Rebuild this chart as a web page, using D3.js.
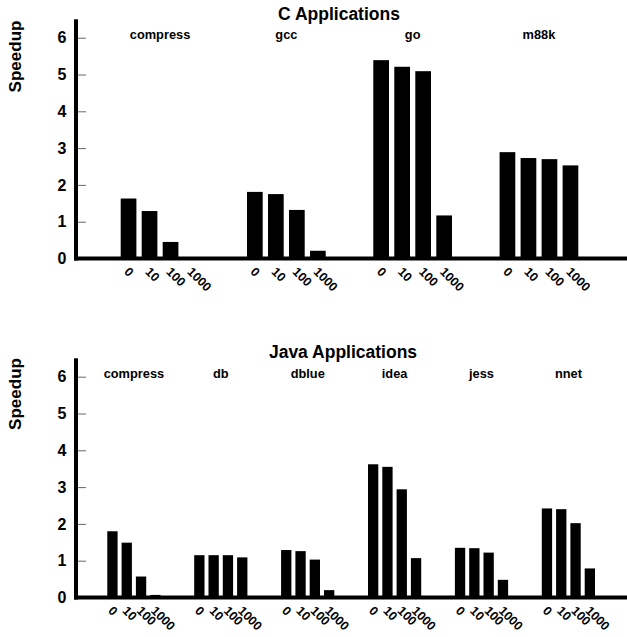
<!DOCTYPE html>
<html>
<head>
<meta charset="utf-8">
<script src="https://cdn.jsdelivr.net/npm/d3@7"></script>
<style>
  html, body { margin: 0; padding: 0; background: #fff; }
  svg { display: block; font-family: "Liberation Sans", Arial, Helvetica, sans-serif; font-weight: bold; }
</style>
</head>
<body>
<svg id="chart" width="627" height="637"></svg>
<script>
// Cache sizes shown under every benchmark
const cacheSizes = ["0", "10", "100", "1000"];
const yTicks = [0, 1, 2, 3, 4, 5, 6];

// C benchmarks
const cBenchmarks = ["compress", "gcc", "go", "m88k"];
const cSpeedup = [
  [1.63, 1.29, 0.45, 0.04],
  [1.81, 1.75, 1.32, 0.21],
  [5.39, 5.21, 5.09, 1.17],
  [2.89, 2.73, 2.70, 2.53]
];

// Java benchmarks
const javaBenchmarks = ["compress", "db", "dblue", "idea", "jess", "nnet"];
const javaSpeedup = [
  [1.80, 1.49, 0.57, 0.07],
  [1.15, 1.15, 1.15, 1.09],
  [1.29, 1.26, 1.03, 0.20],
  [3.62, 3.55, 2.94, 1.07],
  [1.35, 1.34, 1.22, 0.48],
  [2.42, 2.40, 2.02, 0.79]
];

const svg = d3.select("#chart");

function drawPanel(opt) {
  const g = svg.append("g");
  const y = d3.scaleLinear().domain([0, 6.5]).range([opt.zeroY, opt.zeroY - 6.5 * 36.8]);
  const x0 = d3.scaleBand().domain(opt.groups).range(opt.groupRange);
  const x1 = d3.scaleBand().domain(cacheSizes).range([0, x0.bandwidth()])
    .paddingInner(opt.padInner).paddingOuter(opt.padOuter);

  const rows = [];
  opt.groups.forEach((grp, i) => {
    cacheSizes.forEach((s, j) => rows.push({ grp, s, v: opt.values[i][j] }));
  });

  // bars
  g.append("g").selectAll("rect").data(rows).join("rect")
    .attr("x", d => x0(d.grp) + x1(d.s))
    .attr("width", x1.bandwidth())
    .attr("y", d => y(d.v))
    .attr("height", d => y(0) - y(d.v))
    .attr("fill", "#000");

  // y axis: ticks point into the plot, labels on the left
  const axisX = 76;
  const yAxis = d3.axisLeft(y).tickValues(yTicks).tickFormat(d3.format("d"))
    .tickSizeInner(-10).tickSizeOuter(0).tickPadding(9.5);
  const ax = g.append("g").attr("transform", `translate(${axisX},0)`).call(yAxis);
  ax.select(".domain").remove();
  ax.selectAll(".tick line").attr("stroke", "#666").attr("stroke-width", 1);
  ax.selectAll(".tick text").attr("font-size", 16).attr("font-family", null).attr("fill", "#000");

  // thick axis lines
  g.append("line").attr("x1", axisX).attr("x2", axisX)
    .attr("y1", y(6.5)).attr("y2", y(0) + 2)
    .attr("stroke", "#000").attr("stroke-width", 4);
  g.append("line").attr("x1", axisX - 2).attr("x2", 627)
    .attr("y1", y(0)).attr("y2", y(0))
    .attr("stroke", "#000").attr("stroke-width", 4);

  // cache size labels, rotated under each bar
  g.append("g").selectAll("text").data(rows).join("text")
    .attr("transform", d => {
      const cx = x0(d.grp) + x1(d.s) + x1.bandwidth() / 2 - 5;
      return `translate(${cx},${y(0) + 14}) rotate(45)`;
    })
    .attr("font-size", 12.5)
    .text(d => d.s);

  // benchmark names
  g.append("g").selectAll("text").data(opt.groups).join("text")
    .attr("x", d => x0(d) + x0.bandwidth() / 2)
    .attr("y", y(6) + 1.3)
    .attr("text-anchor", "middle")
    .attr("font-size", 12.8)
    .text(d => d);

  // panel title
  g.append("text")
    .attr("x", opt.titleX).attr("y", opt.titleY)
    .attr("text-anchor", "middle").attr("font-size", 17.5)
    .text(opt.title);

  // y axis title
  g.append("text")
    .attr("transform", `translate(20.5,${opt.labelY}) rotate(-90)`)
    .attr("text-anchor", "middle").attr("font-size", 17)
    .text("Speedup");
}

drawPanel({
  groups: cBenchmarks, values: cSpeedup,
  zeroY: 258.5, groupRange: [96.9, 602.1],
  padInner: 0.2524, padOuter: 1.133,
  title: "C Applications", titleX: 339, titleY: 20, labelY: 56.5
});

drawPanel({
  groups: javaBenchmarks, values: javaSpeedup,
  zeroY: 597.5, groupRange: [90.45, 611.85],
  padInner: 0.2797, padOuter: 1.178,
  title: "Java Applications", titleX: 343, titleY: 358.3, labelY: 394
});
</script>
</body>
</html>
